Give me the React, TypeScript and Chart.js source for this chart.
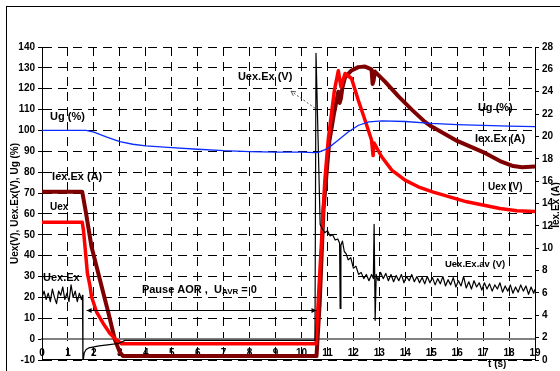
import React, { useEffect, useRef } from "react";
import { Chart, registerables } from "chart.js";

Chart.register(...registerables);

// ---- Data (t in seconds) ----
const ugT = [0, 1.7, 2.0, 2.5, 3.0, 3.5, 4, 5, 6, 7, 8, 9, 10, 10.5, 10.65, 11.0, 11.4, 11.8, 12.2, 12.6, 13.1, 14, 15, 16, 17, 18, 19];
const ugV = [100, 100, 99.2, 96.8, 94.6, 93.4, 92.6, 91.8, 91.0, 90.3, 89.9, 89.6, 89.6, 89.4, 89.5, 91.3, 95.2, 99.3, 102.5, 104.1, 104.6, 104.3, 103.4, 102.8, 102.4, 102.1, 101.8];

const iexT = [0, 1.55, 1.7, 1.91, 2.0, 2.23, 2.56, 2.81, 3.0, 3.12, 10.58, 10.7, 10.85, 11.07, 11.25, 11.42, 11.47, 11.52, 11.58, 11.68, 11.93, 12.19, 12.45, 12.7, 12.74, 12.78, 12.83, 13.22, 13.73, 14.25, 14.76, 15.0, 16.0, 17.0, 17.65, 18.16, 18.5, 19];
const iexA = [15.05, 15.05, 13.1, 10.1, 9.3, 7.2, 4.2, 1.8, 0.7, 0.35, 0.35, 5.0, 13.5, 19.5, 22.0, 24.0, 23.0, 23.4, 24.4, 25.3, 25.9, 26.2, 26.25, 26.0, 24.7, 25.0, 25.8, 24.9, 23.6, 22.4, 21.3, 20.9, 19.6, 18.6, 17.8, 17.35, 17.25, 17.3];

const uexT = [0, 1.55, 1.6, 1.66, 1.75, 1.85, 1.91, 2.1, 2.36, 2.62, 2.88, 3.07, 10.56, 10.65, 10.9, 11.03, 11.27, 11.42, 11.52, 11.68, 11.93, 12.19, 12.45, 12.7, 12.76, 12.8, 13.09, 13.48, 13.99, 14.5, 15.05, 16.37, 17.65, 18.3, 19];
const uexV = [56, 56, 52, 44, 31.5, 25.5, 20.3, 13.1, 7.5, 2.7, -0.5, -2.2, -2.2, 19, 76, 95.4, 119.3, 128.6, 120.9, 127.3, 124.9, 114.5, 104.9, 95.4, 88, 94, 87.4, 81, 76.2, 73, 70.6, 65.8, 62.6, 61.5, 61.2];

const uexExT = [
  0, 0.08, 0.16, 0.24, 0.32, 0.4, 0.48, 0.56, 0.64, 0.72, 0.8, 0.88, 0.96, 1.04, 1.12, 1.2, 1.28, 1.36, 1.44, 1.52, 1.56,
  1.575, 1.58, 1.63, 1.7, 1.8, 1.95, 2.2, 2.6, 2.94, 3.05, 3.2, 10.52, 10.56, 10.72,
  10.8, 10.9, 11.0, 11.1, 11.2, 11.3, 11.4, 11.47, 11.49, 11.52, 11.58, 11.65, 11.72, 11.8, 11.9, 12.0, 12.1, 12.2, 12.3, 12.4, 12.5, 12.6, 12.7, 12.77, 12.8, 12.84, 12.88, 12.95,
  13.05, 13.15, 13.25, 13.35, 13.45, 13.55, 13.65, 13.75, 13.85, 13.95, 14.05, 14.15, 14.25, 14.35, 14.45, 14.55, 14.65, 14.75, 14.85, 14.95,
  15.05, 15.15, 15.25, 15.35, 15.45, 15.55, 15.65, 15.75, 15.85, 15.95, 16.05, 16.15, 16.25, 16.35, 16.45, 16.55, 16.65, 16.75, 16.85, 16.95,
  17.05, 17.15, 17.25, 17.35, 17.45, 17.55, 17.65, 17.75, 17.85, 17.95, 18.05, 18.15, 18.25, 18.35, 18.45, 18.55, 18.65, 18.75, 18.85, 18.95, 19.0
];
const uexExV = [
  20, 23, 19, 22, 18, 24, 20, 17, 23, 21, 25, 19, 22, 18, 26, 20, 23, 18, 22, 19, 21,
  -11, -11, -6.5, -5, -4.2, -3.8, -3.2, -2.6, -2.1, -1.5, -0.6, -0.6, 137, 55,
  53, 51, 52, 49.5, 50, 47.5, 48, 46, 14.7, 45, 47, 42, 41, 38, 39, 34, 35, 31, 32, 29, 31, 28, 31, 29, 55, 9, 31, 28,
  32, 29, 31.5, 28, 31, 27.5, 30.5, 28, 31, 27, 30, 28, 31, 27.5, 30, 27, 29.5, 26.5, 30, 27,
  29.5, 26, 29, 26.5, 30, 25.5, 28.5, 26, 29.5, 25, 28, 25.5, 30, 24.5, 27.5, 24, 28, 25, 27, 23.5,
  27, 24, 26.5, 23, 26, 24, 27, 22.5, 25.5, 23, 26, 22, 25, 22.5, 26, 23, 25.5, 21.5, 25, 22, 24
];

// Annotation texts (data coordinates on t / left axis)
const notes = [
  { text: "Ug (%)", t: 0.31, v: 106.4, size: 11 },
  { text: "Iex.Ex (A)", t: 0.39, v: 77.6, size: 11 },
  { text: "Uex", t: 0.31, v: 63.2, size: 10 },
  { text: "Uex.Ex", t: 0.04, v: 29.2, size: 11 },
  { text: "Uex.Ex (V)", t: 7.55, v: 125.5, size: 11 },
  { text: "Ug (%)", t: 16.8, v: 110.7, size: 11 },
  { text: "Iex.Ex (A)", t: 16.69, v: 96.1, size: 11 },
  { text: "Uex (V)", t: 17.19, v: 72.8, size: 10 },
  { text: "Uex.Ex.av (V)", t: 15.53, v: 35.7, size: 9.5 },
  { text: "t (s)", t: 17.19, v: -12, size: 10 },
];

const FONT = "'Liberation Sans', Arial, sans-serif";

const pts = (ts: number[], vs: number[]) => ts.map((t, i) => ({ x: t, y: vs[i] }));

const decor = {
  id: "decor",
  beforeDraw(chart: any) {
    const ctx = chart.ctx;
    ctx.save();
    ctx.fillStyle = "#fff";
    ctx.fillRect(0, 0, chart.width, chart.height);
    ctx.strokeStyle = "#000";
    ctx.lineWidth = 1;
    ctx.strokeRect(6.5, 6.5, 700, 700);
    ctx.restore();
  },
  beforeDatasetsDraw(chart: any) {
    const ctx = chart.ctx;
    const a = chart.chartArea;
    ctx.save();
    ctx.strokeStyle = "#000";
    ctx.lineWidth = 1;
    ctx.beginPath();
    ctx.moveTo(a.left, a.bottom - 0.5);
    ctx.lineTo(a.right, a.bottom - 0.5);
    ctx.stroke();
    ctx.restore();
  },
  afterDatasetsDraw(chart: any) {
    const ctx = chart.ctx;
    const xs = chart.scales.x;
    const ys = chart.scales.y;
    const a = chart.chartArea;
    ctx.save();
    ctx.fillStyle = "#000";
    ctx.textBaseline = "middle";
    ctx.textAlign = "left";
    for (const n of notes) {
      ctx.font = `bold ${n.size}px ${FONT}`;
      ctx.fillText(n.text, xs.getPixelForValue(n.t), ys.getPixelForValue(n.v));
    }
    // Pause AOR , U_AVR = 0
    let px = xs.getPixelForValue(3.85);
    const py = ys.getPixelForValue(23.5);
    ctx.font = `bold 11px ${FONT}`;
    const s1 = "Pause AOR ,  U";
    ctx.fillText(s1, px, py);
    px += ctx.measureText(s1).width;
    ctx.font = `bold 8px ${FONT}`;
    ctx.fillText("AVR", px, py + 2);
    px += ctx.measureText("AVR").width;
    ctx.font = `bold 11px ${FONT}`;
    ctx.fillText(" = 0", px, py);

    // double arrow
    const ax1 = xs.getPixelForValue(1.72);
    const ax2 = xs.getPixelForValue(10.58);
    const ay = Math.round(ys.getPixelForValue(13.9)) + 0.5;
    ctx.strokeStyle = "#000";
    ctx.lineWidth = 1;
    ctx.beginPath();
    ctx.moveTo(ax1, ay);
    ctx.lineTo(ax2, ay);
    ctx.stroke();
    ctx.beginPath();
    ctx.moveTo(ax1, ay);
    ctx.lineTo(ax1 + 5, ay - 2.5);
    ctx.lineTo(ax1 + 5, ay + 2.5);
    ctx.closePath();
    ctx.fill();
    ctx.beginPath();
    ctx.moveTo(ax2, ay);
    ctx.lineTo(ax2 - 5, ay - 2.5);
    ctx.lineTo(ax2 - 5, ay + 2.5);
    ctx.closePath();
    ctx.fill();

    // dotted pointer to Uex.Ex (V)
    const bx1 = xs.getPixelForValue(10.52);
    const by1 = ys.getPixelForValue(110.7);
    const bx2 = xs.getPixelForValue(9.6);
    const by2 = ys.getPixelForValue(118.8);
    ctx.strokeStyle = "#555";
    ctx.setLineDash([2, 2]);
    ctx.beginPath();
    ctx.moveTo(bx1, by1);
    ctx.lineTo(bx2, by2);
    ctx.stroke();
    ctx.setLineDash([]);
    const ang = Math.atan2(by2 - by1, bx2 - bx1);
    ctx.beginPath();
    ctx.moveTo(bx2 - 5 * Math.cos(ang - 0.5), by2 - 5 * Math.sin(ang - 0.5));
    ctx.lineTo(bx2, by2);
    ctx.lineTo(bx2 - 5 * Math.cos(ang + 0.5), by2 - 5 * Math.sin(ang + 0.5));
    ctx.stroke();

    // axis titles
    ctx.fillStyle = "#000";
    ctx.textAlign = "center";
    ctx.font = `bold 10px ${FONT}`;
    ctx.save();
    ctx.translate(15, (a.top + a.bottom) / 2);
    ctx.rotate(-Math.PI / 2);
    ctx.fillText("Uex(V), Uex.Ex(V), Ug (%)", 0, 0);
    ctx.restore();
    ctx.save();
    ctx.translate(556, 205);
    ctx.rotate(-Math.PI / 2);
    ctx.fillText("Iex.Ex (A)", 0, 0);
    ctx.restore();
    ctx.restore();
  },
};

export default function App() {
  const ref = useRef<HTMLCanvasElement | null>(null);
  useEffect(() => {
    document.body.style.margin = "0";
    const canvas = ref.current;
    if (!canvas) return;
    const tickFont = { family: FONT, size: 10, weight: "bold" as const };
    const chart = new Chart(canvas, {
      type: "line",
      data: {
        datasets: [
          { label: "Ug (%)", data: pts(ugT, ugV), borderColor: "#0a2cff", borderWidth: 1.3, yAxisID: "y", order: 0 },
          { label: "Uex.Ex (V)", data: pts(uexExT, uexExV), borderColor: "#000", borderWidth: 1.2, yAxisID: "y", order: 1 },
          { label: "Uex (V)", data: pts(uexT, uexV), borderColor: "#ff0000", borderWidth: 3.5, yAxisID: "y", order: 2 },
          { label: "Iex.Ex (A)", data: pts(iexT, iexA), borderColor: "#7f0000", borderWidth: 4, yAxisID: "y1", order: 3 },
        ].map((d) => ({ ...d, pointRadius: 0, tension: 0, fill: false, borderJoinStyle: "round" as const })),
      },
      options: {
        animation: false,
        responsive: false,
        maintainAspectRatio: false,
        layout: { padding: { left: 0, right: 0, top: 47, bottom: 11 } },
        plugins: { legend: { display: false }, tooltip: { enabled: false } },
        scales: {
          x: {
            type: "linear",
            min: 0,
            max: 19,
            position: { y: 0 } as any,
            afterFit: (s: any) => { s.height = 0; },
            ticks: { stepSize: 1, font: tickFont, color: "#000", padding: 8, autoSkip: false, maxRotation: 0 },
            grid: { color: "#000", lineWidth: 1, drawTicks: false },
            border: { display: true, color: "#808080", width: 2, dash: [9, 6] },
          },
          y: {
            type: "linear",
            position: "left",
            min: -10,
            max: 140,
            afterFit: (s: any) => { s.width = 42; },
            ticks: { stepSize: 10, font: tickFont, color: "#000", padding: 3 },
            grid: { color: "#000", lineWidth: 1, drawTicks: true, tickLength: 4 },
            border: { display: true, color: "#000", width: 1, dash: [9, 6] },
          },
          y1: {
            type: "linear",
            position: "right",
            min: 0,
            max: 28,
            afterFit: (s: any) => { s.width = 25; },
            ticks: { stepSize: 2, font: tickFont, color: "#000", padding: 3 },
            grid: { drawOnChartArea: false, color: "#000", drawTicks: true, tickLength: 4 },
            border: { display: true, color: "#000", width: 1 },
          },
        },
      },
      plugins: [decor],
    });
    return () => chart.destroy();
  }, []);
  return <canvas ref={ref} width={560} height={371} style={{ display: "block", width: 560, height: 371 }} />;
}
